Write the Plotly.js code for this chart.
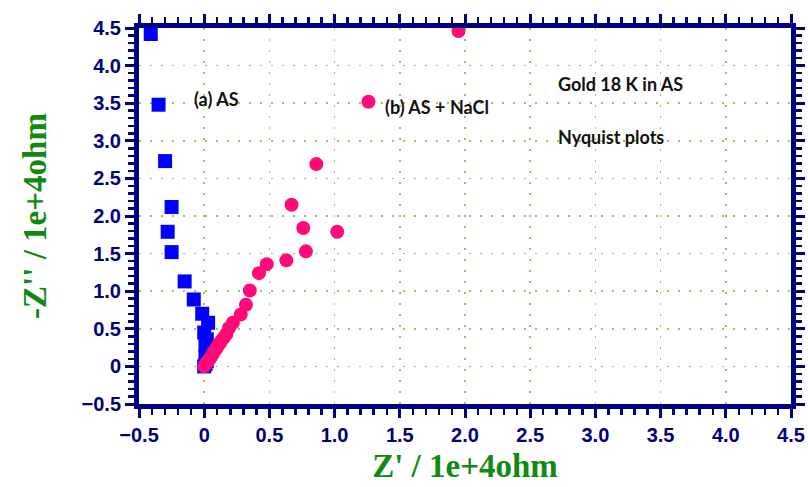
<!DOCTYPE html>
<html>
<head>
<meta charset="utf-8">
<script src="https://cdn.plot.ly/plotly-3.0.1.min.js"></script>
<style>html,body{margin:0;padding:0;background:#fff;}#chart{width:808px;height:487px;}</style>
</head>
<body>
<div id="chart"></div>
<script>
// Series (a) AS - blue squares
const asX = [-0.41, -0.35, -0.30, -0.25, -0.28, -0.25, -0.15, -0.08, -0.015, 0.03, 0.00, 0.02, 0.01, 0.02, 0.01, 0.02, 0.01, 0.00];
const asY = [4.42, 3.48, 2.73, 2.12, 1.79, 1.52, 1.13, 0.89, 0.70, 0.58, 0.45, 0.36, 0.28, 0.20, 0.13, 0.07, 0.03, 0.00];
// Series (b) AS + NaCl - pink circles
const naclX = [1.95, 1.26, 0.86, 0.67, 0.76, 1.02, 0.78, 0.63, 0.48, 0.42, 0.35, 0.32, 0.28, 0.22, 0.19, 0.17, 0.15, 0.13, 0.12, 0.11, 0.10, 0.09, 0.08, 0.07, 0.06, 0.05, 0.04, 0.03, 0.02, 0.01, 0.00];
const naclY = [4.46, 3.52, 2.69, 2.15, 1.84, 1.79, 1.53, 1.41, 1.36, 1.24, 1.01, 0.82, 0.69, 0.58, 0.51, 0.43, 0.38, 0.34, 0.31, 0.29, 0.26, 0.23, 0.21, 0.18, 0.15, 0.12, 0.10, 0.07, 0.05, 0.03, 0.00];
// Tick labels (major every 0.5 from -0.5 to 4.5; zero shown as "0")
const tickStart = -0.5;
const tickStep = 0.5;
const tickAlias = {"0.0": "0"};

const navy = '#000080';
const gridCol = '#a3bf6a';
const tickFont = {family: 'Liberation Sans, Arial, sans-serif', size: 20, color: navy, weight: 'bold'};
const titleFont = {family: 'Liberation Serif, Times New Roman, serif', size: 33, color: '#108a10', weight: 'bold'};
const noteFont = {family: 'Lato, Calibri, sans-serif', size: 18, color: '#111', weight: 'bold'};

function axis(titleText) {
  return {
    range: [-0.5, 4.5],
    tickmode: 'linear',
    tick0: tickStart,
    dtick: tickStep,
    tickformat: '.1f',
    labelalias: tickAlias,
    tickfont: tickFont,
    ticks: 'outside',
    ticklen: 9,
    tickwidth: 3,
    tickcolor: navy,
    showline: true,
    linewidth: 5,
    linecolor: navy,
    mirror: 'allticks',
    showgrid: true,
    gridcolor: gridCol,
    griddash: '2px,9px',
    gridwidth: 1.5,
    zeroline: false,
    minor: {dtick: 0.1, ticks: 'outside', ticklen: 6, tickwidth: 2.5, tickcolor: navy, showgrid: false},
    title: {text: titleText, font: titleFont},
    fixedrange: true
  };
}

const traces = [
  {x: asX, y: asY, mode: 'markers', type: 'scatter', name: '(a) AS',
   marker: {symbol: 'square', size: 14, color: '#0000ff', line: {width: 0}}},
  {x: naclX, y: naclY, mode: 'markers', type: 'scatter', name: '(b) AS + NaCl',
   marker: {symbol: 'circle', size: 14, color: '#ff0a78', line: {width: 0}}}
];

const xa = axis("Z' / 1e+4ohm");
xa.title.standoff = 10;
const ya = axis("-Z'' / 1e+4ohm");
ya.title.standoff = 26;

const layout = {
  width: 808, height: 487,
  margin: {l: 139, r: 17, t: 28, b: 83},
  paper_bgcolor: '#fff', plot_bgcolor: '#fff',
  showlegend: false,
  xaxis: xa,
  yaxis: ya,
  annotations: [
    {x: -0.09, y: 3.56, xref: 'x', yref: 'y', text: '(a) AS', showarrow: false, xanchor: 'left', yanchor: 'middle', font: noteFont},
    {x: 1.37, y: 3.45, xref: 'x', yref: 'y', text: '(b) AS + NaCl', showarrow: false, xanchor: 'left', yanchor: 'middle', font: noteFont},
    {x: 2.70, y: 3.76, xref: 'x', yref: 'y', text: 'Gold 18 K in AS', showarrow: false, xanchor: 'left', yanchor: 'middle', font: noteFont},
    {x: 2.70, y: 3.05, xref: 'x', yref: 'y', text: 'Nyquist plots', showarrow: false, xanchor: 'left', yanchor: 'middle', font: noteFont}
  ]
};

Plotly.newPlot('chart', traces, layout, {displayModeBar: false, staticPlot: true});
</script>
</body>
</html>
